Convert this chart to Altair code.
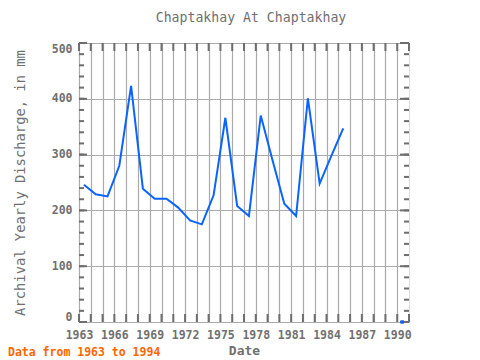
import altair as alt
import pandas as pd

# Data
years = list(range(1963, 1986)) + [1990]
discharge = [246, 229, 225, 280, 423, 239, 221, 221, 205, 182, 175, 227,
             366, 208, 190, 370, 290, 212, 190, 401, 248, 298, 347, 0]

x_ticks = list(range(1963, 1992))
y_minor = list(range(0, 501, 20))
y_major = list(range(0, 501, 100))

W, H = 330, 279
FRAME = "#6e6e6e"
GRID = "#aaaaaa"
TEXT = "#707070"
FONT = "DejaVu Sans Mono"

df = pd.DataFrame({"year": years, "value": discharge})
df["x"] = df["year"] + 0.42

xscale = alt.Scale(domain=[1963, 1991], nice=False, zero=False)
yscale = alt.Scale(domain=[0, 500], nice=False)

xaxis = alt.Axis(values=x_ticks[:-1],
                 labelExpr="(datum.value - 1963) % 3 == 0 ? datum.label : ''",
                 format="d", grid=True, gridColor=GRID, gridWidth=1.2,
                 ticks=False, tickSize=0, domain=False, labelPadding=7,
                 labelOverlap=False,
                 labelFont=FONT, labelFontSize=11.5, labelFontWeight="bold",
                 labelColor=TEXT, titleFont=FONT, titleFontSize=13,
                 titleFontWeight="bold", titleColor=TEXT, titlePadding=4,
                 labelFlush=False)
yaxis = alt.Axis(values=y_major, grid=True, gridColor=GRID, gridWidth=1.2,
                 ticks=False, tickSize=0, domain=False, labelPadding=7,
                 labelOverlap=False,
                 labelFont=FONT, labelFontSize=11.5, labelFontWeight="bold",
                 labelColor=TEXT, titleFont=FONT, titleFontSize=13.8,
                 titleFontWeight="normal", titleColor=TEXT, titlePadding=24,
                 labelFlush=True)
XT = "Date"
YT = "Archival Yearly Discharge, in mm"

base = alt.Chart(df)

line = base.transform_filter("datum.year <= 1985").mark_line(
    color="#0a64ff", strokeWidth=2, clip=False
).encode(
    x=alt.X("x:Q", scale=xscale, title=XT, axis=xaxis),
    y=alt.Y("value:Q", scale=yscale, title=YT, axis=yaxis),
)

point = base.transform_filter("datum.year == 1990").mark_square(
    color="#0a64ff", size=12, opacity=1, clip=False
).encode(x=alt.X("x:Q", scale=xscale, title=XT, axis=xaxis),
         y=alt.Y("value:Q", scale=yscale, title=YT, axis=yaxis))

xt = alt.Chart(pd.DataFrame({"t": x_ticks}))
top_ticks = xt.mark_rule(color=FRAME, strokeWidth=2).encode(
    x=alt.X("t:Q", scale=xscale, title=XT, axis=xaxis), y=alt.value(0), y2=alt.value(8))
bot_ticks = xt.mark_rule(color=FRAME, strokeWidth=2).encode(
    x=alt.X("t:Q", scale=xscale, title=XT, axis=xaxis), y=alt.value(H - 8), y2=alt.value(H))

yt = alt.Chart(pd.DataFrame({"t": y_minor}))
left_minor = yt.mark_rule(color=FRAME, strokeWidth=2).encode(
    y=alt.Y("t:Q", scale=yscale, title=YT, axis=yaxis), x=alt.value(0), x2=alt.value(5))
right_minor = yt.mark_rule(color=FRAME, strokeWidth=2).encode(
    y=alt.Y("t:Q", scale=yscale, title=YT, axis=yaxis), x=alt.value(W - 5), x2=alt.value(W))
ym = alt.Chart(pd.DataFrame({"t": y_major}))
left_major = ym.mark_rule(color=FRAME, strokeWidth=2).encode(
    y=alt.Y("t:Q", scale=yscale, title=YT, axis=yaxis), x=alt.value(0), x2=alt.value(8))
right_major = ym.mark_rule(color=FRAME, strokeWidth=2).encode(
    y=alt.Y("t:Q", scale=yscale, title=YT, axis=yaxis), x=alt.value(W - 9), x2=alt.value(W))

note = alt.Chart(pd.DataFrame({"txt": ["Data from 1963 to 1994"]})).mark_text(
    align="left", baseline="alphabetic", font=FONT, fontSize=11.5,
    fontWeight="bold", color="#ff6600"
).encode(text="txt:N", x=alt.value(-71), y=alt.value(313))

title = alt.Chart(pd.DataFrame({"txt": ["Chaptakhay At Chaptakhay"]})).mark_text(
    align="center", baseline="alphabetic", font=FONT, fontSize=13.2,
    fontWeight="normal", color=TEXT
).encode(text="txt:N", x=alt.value(172), y=alt.value(-21.5))

chart = alt.layer(
    line, top_ticks, bot_ticks, left_minor, right_minor, left_major, right_major,
    point, note, title
).properties(
    width=W, height=H,
    autosize=alt.AutoSizeParams(type="none"),
    padding={"left": 71, "top": 35, "right": 63, "bottom": 60},
).configure_view(stroke=FRAME, strokeWidth=2).configure(background="white")

chart.save("out.html", embed_options={"renderer": "svg", "actions": False})
